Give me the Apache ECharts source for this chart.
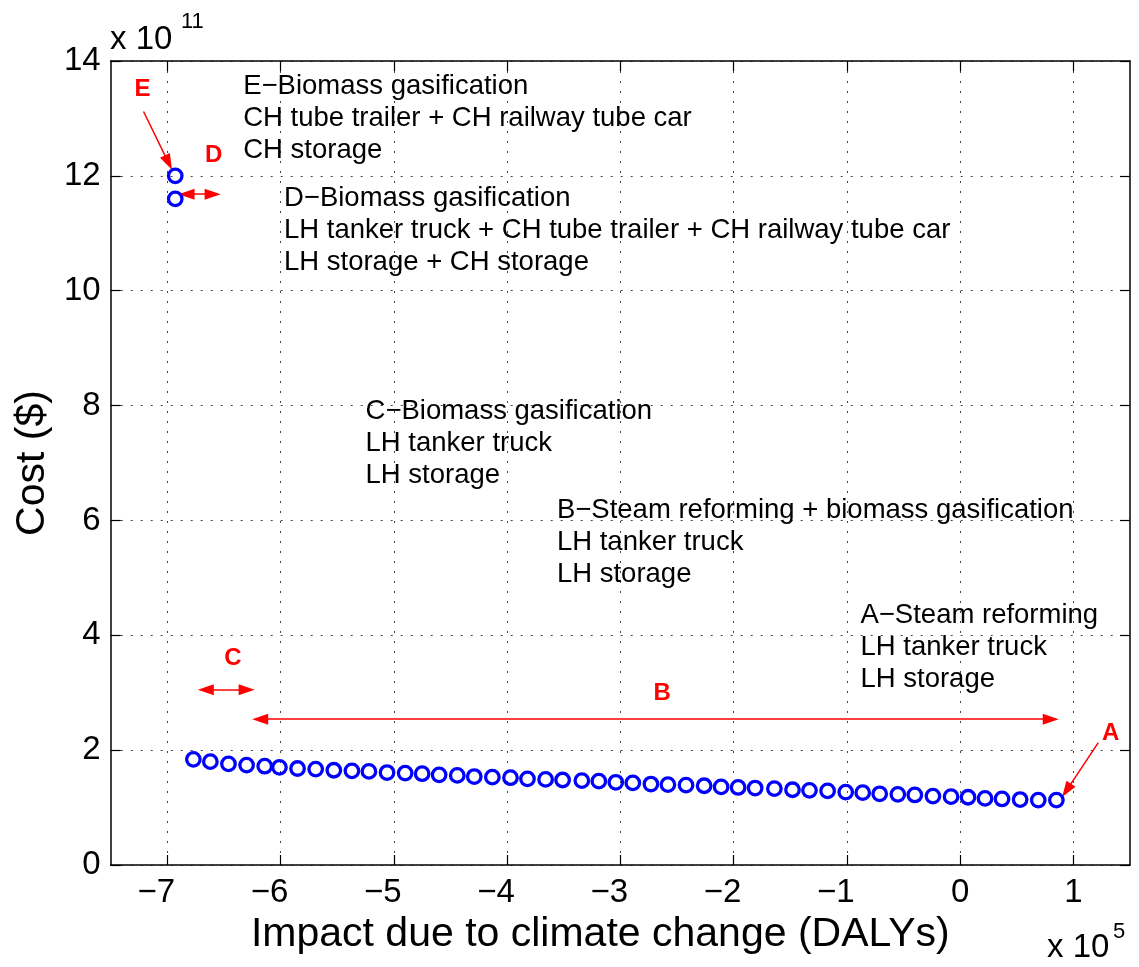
<!DOCTYPE html>
<html>
<head>
<meta charset="utf-8">
<script src="https://cdn.jsdelivr.net/npm/echarts@6/dist/echarts.min.js"></script>
<style>html,body{margin:0;padding:0;background:#fff}#c{width:1139px;height:967px}</style>
</head>
<body>
<div id="c"></div>
<script>
// ---- data (impact in DALYs, cost in $) ----
const upperImpact = [-6.93e5, -6.93e5];
const upperCost = [12.0e11, 11.6e11];

const frontierImpact = [
  -6.77e5, -6.62e5, -6.46e5, -6.30e5, -6.14e5, -6.01e5, -5.85e5, -5.69e5, -5.53e5, -5.37e5,
  -5.22e5, -5.06e5, -4.90e5, -4.75e5, -4.60e5, -4.44e5, -4.29e5, -4.13e5, -3.97e5, -3.82e5,
  -3.66e5, -3.51e5, -3.34e5, -3.19e5, -3.04e5, -2.89e5, -2.73e5, -2.58e5, -2.42e5, -2.26e5,
  -2.11e5, -1.96e5, -1.81e5, -1.64e5, -1.48e5, -1.33e5, -1.17e5, -1.01e5, -0.86e5, -0.71e5,
  -0.55e5, -0.40e5, -0.24e5, -0.08e5, 0.07e5, 0.22e5, 0.37e5, 0.53e5, 0.69e5, 0.85e5
];
const frontierCost = [
  1.84e11, 1.80e11, 1.76e11, 1.74e11, 1.72e11, 1.70e11, 1.68e11, 1.67e11, 1.65e11, 1.64e11,
  1.63e11, 1.61e11, 1.60e11, 1.59e11, 1.57e11, 1.56e11, 1.54e11, 1.53e11, 1.52e11, 1.50e11,
  1.49e11, 1.48e11, 1.47e11, 1.46e11, 1.44e11, 1.43e11, 1.41e11, 1.40e11, 1.39e11, 1.38e11,
  1.36e11, 1.35e11, 1.34e11, 1.33e11, 1.31e11, 1.30e11, 1.29e11, 1.27e11, 1.26e11, 1.24e11,
  1.23e11, 1.22e11, 1.20e11, 1.19e11, 1.18e11, 1.16e11, 1.15e11, 1.14e11, 1.13e11, 1.13e11
];

const xTicks = [-7e5, -6e5, -5e5, -4e5, -3e5, -2e5, -1e5, 0, 1e5];
const yTicks = [0, 2e11, 4e11, 6e11, 8e11, 10e11, 12e11, 14e11];

const noteTexts = [
  'E\u2212Biomass gasification\nCH tube trailer + CH railway tube car\nCH storage',
  'D\u2212Biomass gasification\nLH tanker truck + CH tube trailer + CH railway tube car\nLH storage + CH storage',
  'C\u2212Biomass gasification\nLH tanker truck\nLH storage',
  'B\u2212Steam reforming + biomass gasification\nLH tanker truck\nLH storage',
  'A\u2212Steam reforming\nLH tanker truck\nLH storage'
];
const noteX = [-6.33e5, -5.97e5, -5.25e5, -3.56e5, -0.88e5];
const noteY = [13.84e11, 11.88e11, 8.17e11, 6.46e11, 4.63e11];

const tagNames = ['E', 'D', 'C', 'B', 'A'];
const tagX = [-7.22e5, -6.59e5, -6.42e5, -2.63e5, 1.33e5];
const tagY = [13.51e11, 12.36e11, 3.59e11, 2.98e11, 2.29e11];

// arrows: [x1, y1, x2, y2, headAtStart, headAtEnd]
const arrowE = [-7.21e5, 13.12e11, -6.99e5, 12.23e11, false, true];
const arrowD = [-6.83e5, 11.68e11, -6.60e5, 11.68e11, true, true];
const arrowC = [-6.66e5, 3.05e11, -6.30e5, 3.05e11, true, true];
const arrowB = [-6.18e5, 2.54e11, 0.80e5, 2.54e11, true, true];
const arrowA = [1.22e5, 2.13e11, 0.94e5, 1.30e11, false, true];

// ---- chart ----
const FONT = "'Liberation Sans', Arial, Helvetica, sans-serif";
const chart = echarts.init(document.getElementById('c'), null, {renderer: 'canvas'});

const pts = [];
for (let i = 0; i < upperImpact.length; i++) pts.push([upperImpact[i], upperCost[i]]);
for (let i = 0; i < frontierImpact.length; i++) pts.push([frontierImpact[i], frontierCost[i]]);

const notes = noteTexts.map((t, i) => ({value: [noteX[i], noteY[i]], label: {formatter: t}}));
const tags = tagNames.map((t, i) => ({value: [tagX[i], tagY[i]], label: {formatter: t}}));

function arrowItem(a) {
  return [
    {coord: [a[0], a[1]], symbol: a[4] ? 'triangle' : 'none'},
    {coord: [a[2], a[3]], symbol: a[5] ? 'triangle' : 'none'}
  ];
}

const axisCommon = {
  axisLine: {show: true, onZero: false, lineStyle: {color: '#000', width: 1.5}},
  axisTick: {show: true, inside: true, length: 10, lineStyle: {color: '#000', width: 1.2}},
};

const option = {
  animation: false,
  backgroundColor: '#fff',
  grid: {left: 110.7, right: 9, top: 61, bottom: 102, containLabel: false},
  xAxis: [
    {
      type: 'value', min: -7.5e5, max: 1.5e5, position: 'bottom',
      ...axisCommon,
      axisTick: {show: true, inside: true, length: 10, customValues: xTicks, lineStyle: {color: '#000', width: 1.2}},
      axisLabel: {
        customValues: xTicks, color: '#000', fontFamily: FONT, fontSize: 33, margin: 11,
        formatter: v => {
          const n = Math.round(v / 1e5);
          return n < 0 ? '{n|\u2212' + (-n) + '}' : String(n);
        },
        rich: {n: {fontFamily: FONT, fontSize: 33, color: '#000', padding: [0, 22, 0, 0]}}
      },
      splitLine: {show: true, lineStyle: {color: '#444', width: 1, type: [2, 8]}},
      name: 'Impact due to climate change (DALYs)',
      nameLocation: 'middle', nameGap: 46,
      nameTextStyle: {fontFamily: FONT, fontSize: 41, color: '#000', padding: [0, 40, 0, 0]}
    },
    {
      type: 'value', min: -7.5e5, max: 1.5e5, position: 'top',
      ...axisCommon,
      axisTick: {show: true, inside: true, length: 10, customValues: xTicks, lineStyle: {color: '#000', width: 1.2}},
      axisLabel: {show: false, customValues: xTicks},
      splitLine: {show: false}
    }
  ],
  yAxis: [
    {
      type: 'value', min: 0, max: 14e11, interval: 2e11, position: 'left',
      ...axisCommon,
      axisLabel: {
        color: '#000', fontFamily: FONT, fontSize: 33, margin: 10,
        formatter: v => String(Math.round(v / 1e11))
      },
      splitLine: {show: true, lineStyle: {color: '#444', width: 1, type: [2, 8]}},
      name: 'Cost ($)',
      nameLocation: 'middle', nameGap: 53, nameRotate: 90,
      nameTextStyle: {fontFamily: FONT, fontSize: 41, color: '#000'}
    },
    {
      type: 'value', min: 0, max: 14e11, interval: 2e11, position: 'right',
      ...axisCommon,
      axisLabel: {show: false},
      splitLine: {show: false}
    }
  ],
  series: [
    {
      name: 'solutions', type: 'scatter', silent: true,
      symbol: 'circle', symbolSize: 13.5,
      itemStyle: {color: 'rgba(0,0,0,0)', borderColor: '#0000ff', borderWidth: 3.3, opacity: 1},
      data: pts,
      z: 5
    },
    {
      name: 'notes', type: 'scatter', silent: true, symbolSize: 0,
      itemStyle: {color: 'rgba(0,0,0,0)', opacity: 1},
      label: {
        show: true, position: [0, 0], align: 'left', verticalAlign: 'top',
        fontFamily: FONT, fontSize: 27.5, lineHeight: 32, color: '#000'
      },
      data: notes,
      z: 4
    },
    {
      name: 'tags', type: 'scatter', silent: true, symbolSize: 0,
      itemStyle: {color: 'rgba(0,0,0,0)', opacity: 1},
      label: {
        show: true, position: [0, 0], align: 'center', verticalAlign: 'middle',
        fontFamily: FONT, fontSize: 24, fontWeight: 'bold', color: '#ff0000'
      },
      data: tags,
      markLine: {
        silent: true, animation: false,
        symbolSize: [11, 16],
        label: {show: false},
        lineStyle: {color: '#ff0000', width: 1.5, type: 'solid', opacity: 1},
        itemStyle: {color: '#ff0000', opacity: 1},
        data: [arrowItem(arrowE), arrowItem(arrowD), arrowItem(arrowC), arrowItem(arrowB), arrowItem(arrowA)]
      },
      z: 6
    }
  ],
  graphic: [
    {type: 'text', left: 110, top: 23, style: {text: 'x 10', font: "33px " + FONT, fill: '#000'}},
    {type: 'text', left: 181, top: 11, style: {text: '11', font: "22px " + FONT, fill: '#000'}},
    {type: 'text', left: 1047, top: 931, style: {text: 'x 10', font: "33px " + FONT, fill: '#000'}},
    {type: 'text', left: 1113, top: 921, style: {text: '5', font: "22px " + FONT, fill: '#000'}}
  ]
};
chart.setOption(option);
</script>
</body>
</html>
